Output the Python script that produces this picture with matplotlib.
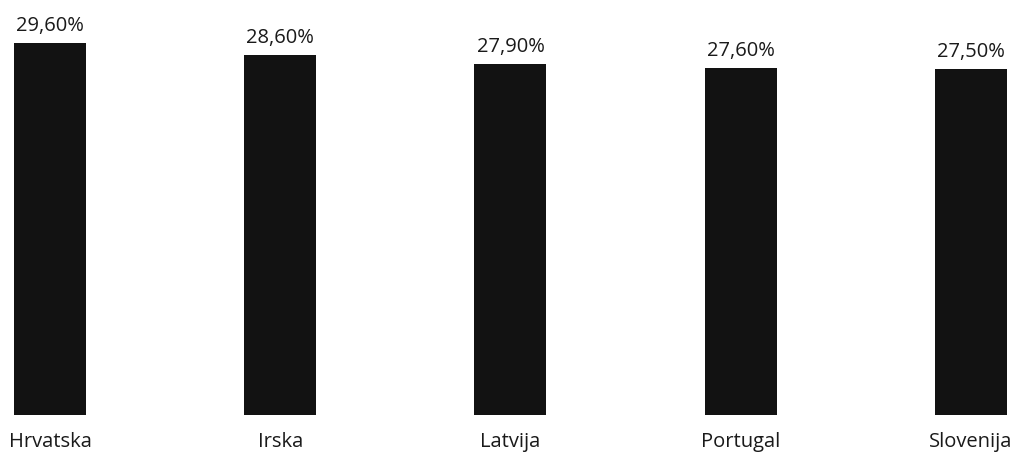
import matplotlib
matplotlib.use("Agg")
import matplotlib.pyplot as plt

categories = ["Hrvatska", "Irska", "Latvija", "Portugal", "Slovenija"]
values = [29.6, 28.6, 27.9, 27.6, 27.5]
value_labels = ["29,60%", "28,60%", "27,90%", "27,60%", "27,50%"]

plt.rcParams['font.family'] = ['Open Sans', 'DejaVu Sans']

fig = plt.figure(figsize=(10.17, 4.55), dpi=100)
ax = fig.add_axes([0, 40/455, 1, 415/455])
x = list(range(len(categories)))
bars = ax.bar(x, values, width=0.313, color="#121212")
ax.set_xlim(-0.217, 4.2)
ax.set_ylim(0, 33.0)
for xi, v, lab in zip(x, values, value_labels):
    ax.annotate(lab, (xi, v), xytext=(0, 5), textcoords="offset points",
                ha="center", va="bottom", fontsize=14.5, color="#1a1a1a")
for xi, c in zip(x, categories):
    ax.text(xi, -2.15, c, ha="center", va="center", fontsize=14.5, color="#1a1a1a",
            clip_on=False)
for s in ax.spines.values():
    s.set_visible(False)
ax.set_xticks([])
ax.set_yticks([])
fig.savefig("out.png", dpi=100, facecolor="white")
